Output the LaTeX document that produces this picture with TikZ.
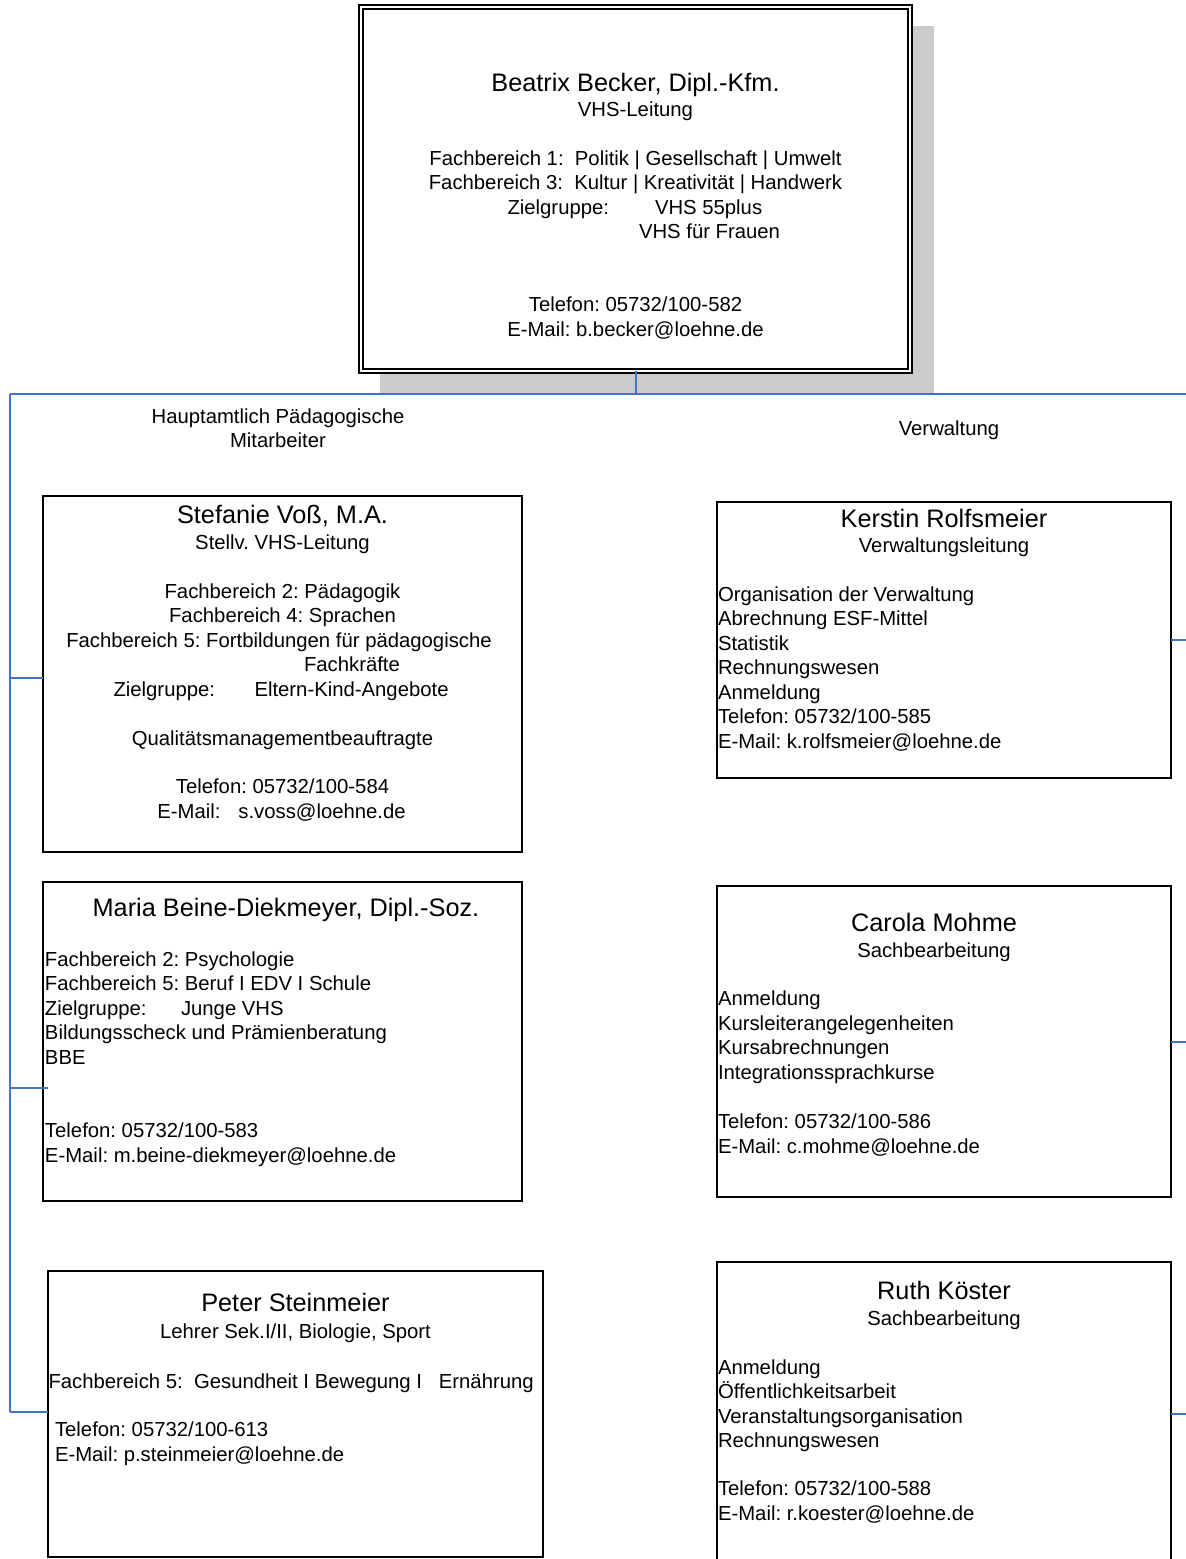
\documentclass[tikz,border=0pt]{standalone}
\usepackage{fontspec}
\setmainfont{Liberation Sans}
\definecolor{linkblue}{RGB}{68,114,196}
\definecolor{shadowgray}{RGB}{204,204,204}
\tikzset{
  bt/.style={font=\frenchspacing\fontsize{20.3}{24.4}\selectfont, inner sep=0pt, outer sep=0pt},
  nt/.style={font=\frenchspacing\fontsize{25.3}{30}\selectfont, inner sep=0pt, outer sep=0pt},
  person/.style={draw=black, line width=1.5pt, fill=white, rectangle, inner sep=0pt, outer sep=0pt},
  headbox/.style={draw=black, line width=1.5pt, double=white, double distance=2.5pt, fill=white, rectangle, inner sep=0pt, outer sep=0pt},
  link/.style={draw=linkblue, line width=1.6pt}
}
\newcommand\myC[4]{\node[bt,anchor=base] (#1) at (#2,#3) {#4};}
\newcommand\myL[4]{\node[bt,anchor=base west] (#1) at (#2,#3) {#4};}
\newcommand\myN[4]{\node[nt,anchor=base] (#1) at (#2,#3) {#4};}
\begin{document}
\frenchspacing
\begin{tikzpicture}[x=1pt,y=-1pt]
\useasboundingbox (0,0) rectangle (1186,1559);
\fill[white] (0,0) rectangle (1186,1559);

% shadow of head box
\fill[shadowgray] (380,26) rectangle (934,395);

% boxes
\node[headbox, minimum width=549pt, minimum height=364pt] (head) at (635.5,189) {};
\node[person, minimum width=479pt, minimum height=356pt] (stef) at (282.5,674) {};
\node[person, minimum width=479pt, minimum height=319pt] (maria) at (282.5,1041.5) {};
\node[person, minimum width=495pt, minimum height=286pt] (peter) at (295.5,1414) {};
\node[person, minimum width=454pt, minimum height=276pt] (kerstin) at (944,640) {};
\node[person, minimum width=454pt, minimum height=311pt] (carola) at (944,1041.5) {};
\node[person, minimum width=454pt, minimum height=304pt] (ruth) at (944,1414) {};

% connector junctions
\coordinate (jtop) at (636,394);
\coordinate (jl0) at (10,394);
\coordinate (jr0) at (1186,394);
\coordinate (jl1) at (10,678);
\coordinate (jl2) at (10,1088);
\coordinate (jl3) at (10,1412);
\coordinate (jr1) at (1186,640);
\coordinate (jr2) at (1186,1042);
\coordinate (jr3) at (1186,1414);

\draw[link] (head.south -| jtop) -- (jtop);
\draw[link] (jl0) -- (jr0);
\draw[link] (jl0) -- (jl3);
\draw[link] (jl1) -- (jl1 -| stef.west);
\draw[link] (jl2) -- ([xshift=5pt]jl2 -| maria.west);
\draw[link] (jl3) -- (jl3 -| peter.west);
\draw[link] (jr1 -| kerstin.east) -- (jr1);
\draw[link] (jr2 -| carola.east) -- (jr2);
\draw[link] (jr3 -| ruth.east) -- (jr3);

% head box text
\myN{h1}{635.5}{91}{Beatrix Becker, Dipl.-Kfm.}
\myC{h2}{635.5}{116.3}{VHS-Leitung}
\myC{h3}{635.5}{165.3}{Fachbereich 1:\ \ Politik | Gesellschaft | Umwelt}
\myC{h4}{635.5}{189.3}{Fachbereich 3:\ \ Kultur | Kreativität | Handwerk}
\myL{h5}{507.5}{214.3}{Zielgruppe:}
\myL{h6}{655}{214.3}{VHS 55plus}
\myL{h7}{639}{238.3}{VHS für Frauen}
\myC{h8}{635.5}{311.3}{Telefon: 05732/100-582}
\myC{h9}{635.5}{336.3}{E-Mail: b.becker@loehne.de}

% group labels
\myC{g1}{278}{423.3}{Hauptamtlich Pädagogische}
\myC{g2}{278}{447.3}{Mitarbeiter}
\myC{g3}{949}{435.3}{Verwaltung}

% Stefanie
\myN{s1}{282.5}{523}{Stefanie Voß, M.A.}
\myC{s2}{282.5}{549}{Stellv. VHS-Leitung}
\myC{s3}{282.5}{598}{Fachbereich 2: Pädagogik}
\myC{s4}{282.5}{622.3}{Fachbereich 4: Sprachen}
\myC{s5}{279}{647.3}{Fachbereich 5: Fortbildungen für pädagogische}
\myL{s6}{304}{671.3}{Fachkräfte}
\myL{s7}{113.5}{696.3}{Zielgruppe:}
\myL{s8}{254.5}{696.3}{Eltern-Kind-Angebote}
\myC{s9}{282.5}{745.3}{Qualitätsmanagementbeauftragte}
\myC{s10}{282.5}{793.3}{Telefon: 05732/100-584}
\myL{s11}{157.4}{818.3}{E-Mail:}
\myL{s12}{238.4}{818.3}{s.voss@loehne.de}

% Maria
\myN{m1}{286}{916}{Maria Beine-Diekmeyer, Dipl.-Soz.}
\myL{m2}{45}{966.3}{Fachbereich 2: Psychologie}
\myL{m3}{45}{990.3}{Fachbereich 5: Beruf I EDV I Schule}
\myL{m4}{45}{1015.3}{Zielgruppe:}
\myL{m5}{181}{1015.3}{Junge VHS}
\myL{m6}{45}{1039.3}{Bildungsscheck und Prämienberatung}
\myL{m7}{45}{1064.3}{BBE}
\myL{m8}{45}{1137.3}{Telefon: 05732/100-583}
\myL{m9}{45}{1162.3}{E-Mail: m.beine-diekmeyer@loehne.de}

% Peter
\myN{p1}{295.5}{1311}{Peter Steinmeier}
\myC{p2}{295.5}{1338.3}{Lehrer Sek.I/II, Biologie, Sport}
\myL{p3}{48.5}{1388.3}{Fachbereich 5:\ \ Gesundheit I Bewegung I\ \ \ Ernährung}
\myL{p4}{55}{1436.3}{Telefon: 05732/100-613}
\myL{p5}{55}{1461.3}{E-Mail: p.steinmeier@loehne.de}

% Kerstin
\myN{k1}{944}{527}{Kerstin Rolfsmeier}
\myC{k2}{944}{552.3}{Verwaltungsleitung}
\myL{k3}{718}{601.3}{Organisation der Verwaltung}
\myL{k4}{718}{625.3}{Abrechnung ESF-Mittel}
\myL{k5}{718}{650.3}{Statistik}
\myL{k6}{718}{674.3}{Rechnungswesen}
\myL{k7}{718}{699.3}{Anmeldung}
\myL{k8}{718}{723.3}{Telefon: 05732/100-585}
\myL{k9}{718}{748.3}{E-Mail: k.rolfsmeier@loehne.de}

% Carola
\myN{c1}{934}{931}{Carola Mohme}
\myC{c2}{934}{957.3}{Sachbearbeitung}
\myL{c3}{718}{1005.3}{Anmeldung}
\myL{c4}{718}{1030.3}{Kursleiterangelegenheiten}
\myL{c5}{718}{1054.3}{Kursabrechnungen}
\myL{c6}{718}{1079.3}{Integrationssprachkurse}
\myL{c7}{718}{1128.3}{Telefon: 05732/100-586}
\myL{c8}{718}{1153.3}{E-Mail: c.mohme@loehne.de}

% Ruth
\myN{r1}{944}{1299}{Ruth Köster}
\myC{r2}{944}{1325.3}{Sachbearbeitung}
\myL{r3}{718}{1374.3}{Anmeldung}
\myL{r4}{718}{1398.3}{Öffentlichkeitsarbeit}
\myL{r5}{718}{1423.3}{Veranstaltungsorganisation}
\myL{r6}{718}{1447.3}{Rechnungswesen}
\myL{r7}{718}{1495.3}{Telefon: 05732/100-588}
\myL{r8}{718}{1520.3}{E-Mail: r.koester@loehne.de}
\end{tikzpicture}
\end{document}
